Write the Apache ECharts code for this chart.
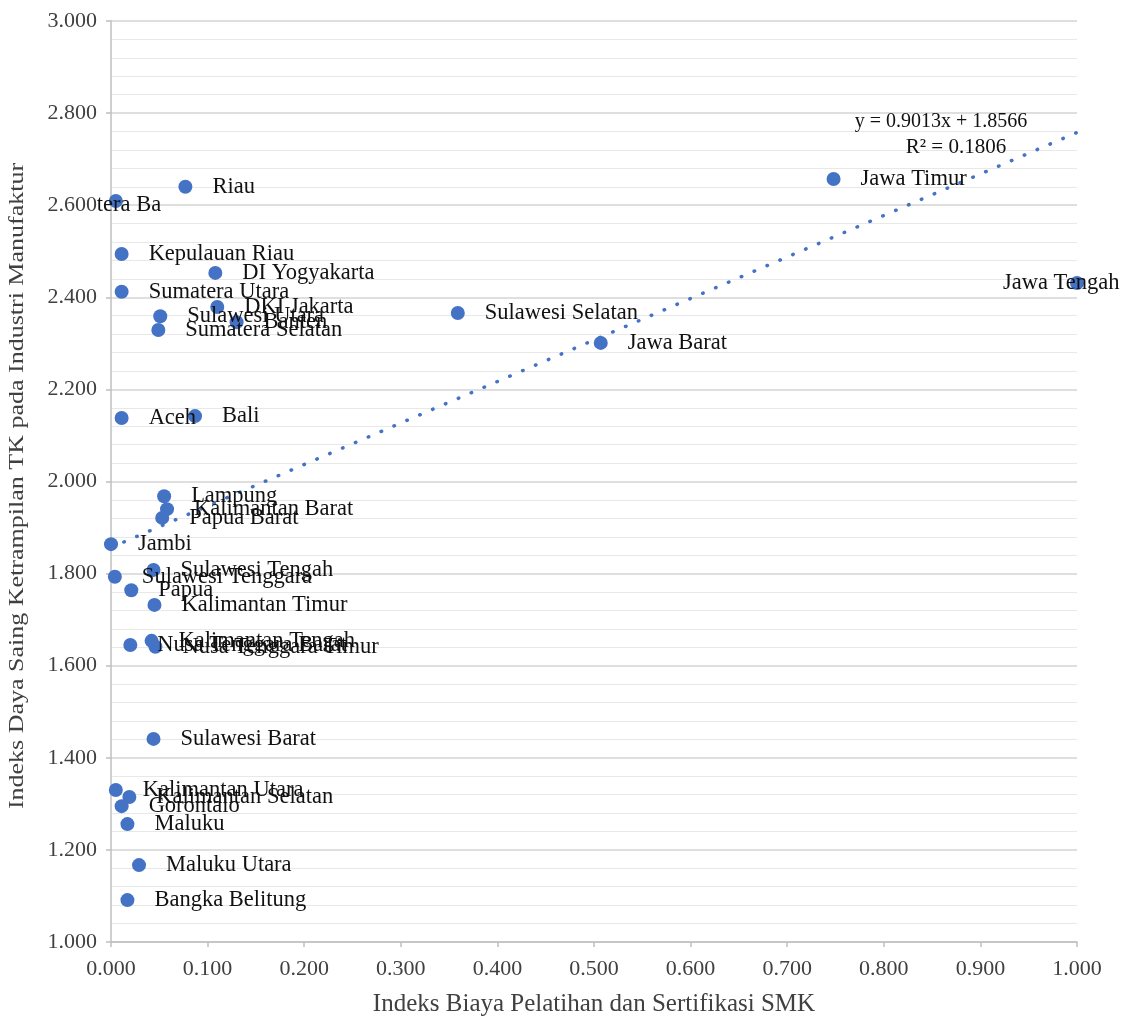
<!DOCTYPE html>
<html>
<head>
<meta charset="utf-8">
<script src="https://cdn.jsdelivr.net/npm/echarts@6/dist/echarts.min.js"></script>
<style>html,body{margin:0;padding:0;background:#fff}#c{width:1129px;height:1017px}</style>
</head>
<body>
<div id="c"></div>
<script>
const provinces = ["Riau","Sumatera Barat","Kepulauan Riau","DI Yogyakarta","Sumatera Utara","DKI Jakarta","Sulawesi Utara","Banten","Sumatera Selatan","Sulawesi Selatan","Jawa Barat","Jawa Timur","Jawa Tengah","Aceh","Bali","Lampung","Kalimantan Barat","Papua Barat","Jambi","Sulawesi Tenggara","Sulawesi Tengah","Papua","Kalimantan Timur","Kalimantan Tengah","Nusa Tenggara Barat","Nusa Tenggara Timur","Sulawesi Barat","Kalimantan Utara","Kalimantan Selatan","Gorontalo","Maluku","Maluku Utara","Bangka Belitung"];
const pointLabels = ["Riau","tera Ba","Kepulauan Riau","DI Yogyakarta","Sumatera Utara","DKI Jakarta","Sulawesi Utara","Banten","Sumatera Selatan","Sulawesi Selatan","Jawa Barat","Jawa Timur","Jawa Tengah","Aceh","Bali","Lampung","Kalimantan Barat","Papua Barat","Jambi","Sulawesi Tenggara","Sulawesi Tengah","Papua","Kalimantan Timur","Kalimantan Tengah","Nusa Tenggara Barat","Nusa Tenggara Timur","Sulawesi Barat","Kalimantan Utara","Kalimantan Selatan","Gorontalo","Maluku","Maluku Utara","Bangka Belitung"];
const biayaSMK = [0.077,0.005,0.011,0.108,0.011,0.110,0.051,0.130,0.049,0.359,0.507,0.748,1.000,0.011,0.087,0.055,0.058,0.053,0.000,0.004,0.044,0.021,0.045,0.042,0.020,0.046,0.044,0.005,0.019,0.011,0.017,0.029,0.017];
const dayaSaing = [2.640,2.609,2.494,2.453,2.412,2.379,2.359,2.346,2.329,2.366,2.301,2.657,2.431,2.138,2.142,1.968,1.940,1.921,1.864,1.793,1.808,1.764,1.732,1.654,1.645,1.641,1.441,1.330,1.315,1.295,1.256,1.167,1.091];
const trendLine = [[0, 1.8566], [1, 2.7579]];
const equationText = "y = 0.9013x + 1.8566";
const r2Text = "R\u00b2 = 0.1806";
const xTitle = "Indeks Biaya Pelatihan dan Sertifikasi SMK";
const yTitle = "Indeks Daya Saing Ketrampilan TK pada Industri Manufaktur";

const FONT = '"Liberation Serif", "Times New Roman", serif';
const labelPlacement = {
  "Sumatera Barat": { position: [-12, 11], align: 'left', verticalAlign: 'middle' },
  "Jawa Tengah": { position: [-67, 7], align: 'left', verticalAlign: 'middle' }
};

const points = provinces.map((n, i) => {
  const item = { name: n, value: [biayaSMK[i], dayaSaing[i]] };
  if (labelPlacement[n]) item.label = Object.assign({ show: true }, labelPlacement[n]);
  return item;
});

const chart = echarts.init(document.getElementById('c'), null, { renderer: 'canvas' });
chart.setOption({
  animation: false,
  backgroundColor: '#ffffff',
  grid: { left: 111, right: 52, top: 21, bottom: 75, containLabel: false, outerBoundsMode: 'none' },
  xAxis: {
    type: 'value', min: 0, max: 1, interval: 0.1,
    name: xTitle, nameLocation: 'middle', nameGap: 50,
    nameTextStyle: { fontFamily: FONT, fontSize: 25, color: '#404040' },
    axisLine: { show: true, onZero: false, lineStyle: { color: '#bfbfbf', width: 1.5 } },
    axisTick: { show: true, length: 5, lineStyle: { color: '#bfbfbf', width: 1.5 } },
    axisLabel: { formatter: v => v.toFixed(3), fontFamily: FONT, fontSize: 22, color: '#404040', margin: 16 },
    splitLine: { show: false }
  },
  yAxis: {
    type: 'value', min: 1, max: 3, interval: 0.2,
    axisLine: { show: true, onZero: false, lineStyle: { color: '#bfbfbf', width: 1.5 } },
    axisTick: { show: true, length: 5, lineStyle: { color: '#bfbfbf', width: 1.5 } },
    axisLabel: { formatter: v => v.toFixed(3), fontFamily: FONT, fontSize: 22, color: '#404040', margin: 14 },
    splitLine: { show: true, lineStyle: { color: '#d4d4d4', width: 1.5 } },
    minorTick: { show: false, splitNumber: 5 },
    minorSplitLine: { show: true, lineStyle: { color: '#e8e8e8', width: 1 } }
  },
  series: [
    {
      type: 'line',
      data: trendLine,
      symbol: 'none',
      silent: true,
      z: 1,
      lineStyle: { color: '#4472C4', width: 3.5, type: [0.5, 13.5], cap: 'round' }
    },
    {
      type: 'scatter',
      data: points,
      symbol: 'circle',
      symbolSize: 14,
      z: 3,
      itemStyle: { color: '#4472C4', opacity: 1 },
      label: {
        show: true, position: 'right', distance: 20,
        formatter: p => pointLabels[p.dataIndex],
        fontFamily: FONT, fontSize: 22.5, color: '#111111'
      },
      labelLayout: { hideOverlap: false }
    }
  ],
  graphic: [
    { type: 'text', x: 18, y: 486, rotation: Math.PI / 2, scaleX: 1.3, z: 10,
      style: { text: yTitle, font: '20px ' + FONT, fill: '#404040', align: 'center', verticalAlign: 'middle' } },
    { type: 'text', x: 941, y: 122, z: 10,
      style: { text: equationText, font: '20px ' + FONT, fill: '#111111', align: 'center', verticalAlign: 'middle' } },
    { type: 'text', x: 956, y: 147, z: 10,
      style: { text: r2Text, font: '21px ' + FONT, fill: '#111111', align: 'center', verticalAlign: 'middle' } }
  ]
});
</script>
</body>
</html>
